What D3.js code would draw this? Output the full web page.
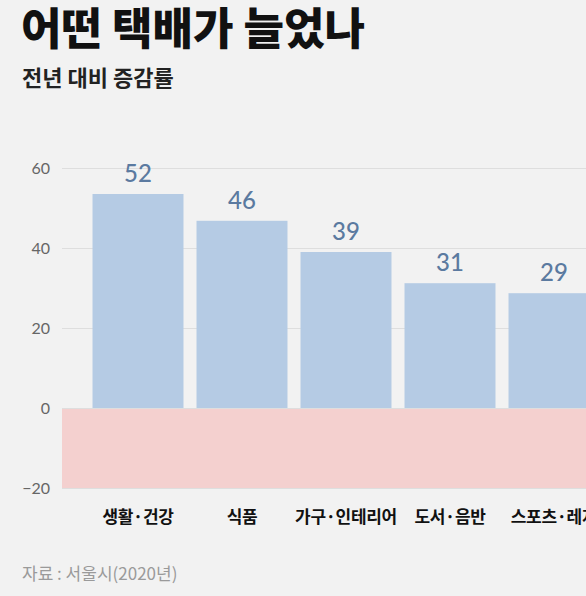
<!DOCTYPE html>
<meta charset="UTF-8">
<script src="https://cdnjs.cloudflare.com/ajax/libs/d3/7.4.4/d3.min.js"></script>
<style>
    body { margin: 0; background: #f2f2f2; }
</style>
<svg id="chart" width="586" height="596"></svg>
<script>
    // data
    let categories = ["생활·건강", "식품", "가구·인테리어", "도서·음반", "스포츠·레저"];
    let values = [53.5, 46.8, 39.0, 31.2, 28.7];
    let valueLabels = ["52", "46", "39", "31", "29"];
    let yTicks = [-20, 0, 20, 40, 60];

    let svg = d3.select("#chart"),
        width = +svg.attr("width"),
        height = +svg.attr("height");

    svg.append("rect")
        .attr("width", width)
        .attr("height", height)
        .style("fill", "#f2f2f2");

    let y = d3.scaleLinear()
        .domain([-20, 60])
        .range([488, 168]);

    let x = d3.scaleBand()
        .domain(categories)
        .range([86, 606])
        .paddingInner(0.125)
        .paddingOuter(0.0625);

    let plotLeft = 62;

    // negative zone
    svg.append("rect")
        .attr("x", plotLeft)
        .attr("y", y(0))
        .attr("width", width - plotLeft)
        .attr("height", y(-20) - y(0))
        .style("fill", "#f4d0cf");

    // y axis
    let yAxis = svg.append("g")
        .attr("transform", "translate(" + plotLeft + ",0)")
        .call(d3.axisLeft(y).tickValues(yTicks).tickSize(-(width - plotLeft)).tickPadding(12));
    yAxis.select(".domain").remove();
    yAxis.selectAll(".tick line")
        .style("stroke", "#dedede")
        .style("stroke-width", 1);
    yAxis.selectAll(".tick text")
        .style("font-family", "Lato, 'Noto Sans CJK KR'")
        .style("font-size", "16px")
        .style("fill", "#666");

    // bars
    svg.append("g")
        .selectAll("rect")
        .data(values)
        .enter()
        .append("rect")
        .attr("x", function (d, i) { return x(categories[i]); })
        .attr("y", function (d) { return y(d); })
        .attr("width", x.bandwidth())
        .attr("height", function (d) { return y(0) - y(d); })
        .style("fill", "#b5cbe4");

    // value labels
    svg.append("g")
        .selectAll("text")
        .data(values)
        .enter()
        .append("text")
        .attr("x", function (d, i) { return x(categories[i]) + x.bandwidth() / 2; })
        .attr("y", function (d) { return y(d) - 12; })
        .style("font-family", "Lato, 'Noto Sans CJK KR'")
        .style("font-size", "24px")
        .style("font-weight", "500")
        .style("text-anchor", "middle")
        .style("fill", "#5b7aa0")
        .text(function (d, i) { return valueLabels[i]; });

    // category labels
    svg.append("g")
        .selectAll("text")
        .data(categories)
        .enter()
        .append("text")
        .attr("x", function (d) { return x(d) + x.bandwidth() / 2; })
        .attr("y", 523)
        .style("font-family", "'Noto Sans CJK KR'")
        .style("font-size", "17px")
        .style("font-weight", "bold")
        .style("letter-spacing", "-0.3px")
        .style("text-anchor", "middle")
        .style("fill", "#111")
        .text(function (d) { return d; });

    // titles
    svg.append("text")
        .attr("x", 21)
        .attr("y", 45)
        .style("font-family", "'Noto Sans CJK KR'")
        .style("font-size", "44px")
        .style("font-weight", "900")
        .style("fill", "#111")
        .text("어떤 택배가 늘었나");

    svg.append("text")
        .attr("x", 22)
        .attr("y", 86)
        .style("font-family", "'Noto Sans CJK KR'")
        .style("font-size", "22px")
        .style("font-weight", "bold")
        .style("fill", "#222")
        .text("전년 대비 증감률");

    svg.append("text")
        .attr("x", 22)
        .attr("y", 580)
        .style("font-family", "'Noto Sans CJK KR'")
        .style("font-size", "17px")
        .style("fill", "#9a9a9a")
        .text("자료 : 서울시(2020년)");
</script>
